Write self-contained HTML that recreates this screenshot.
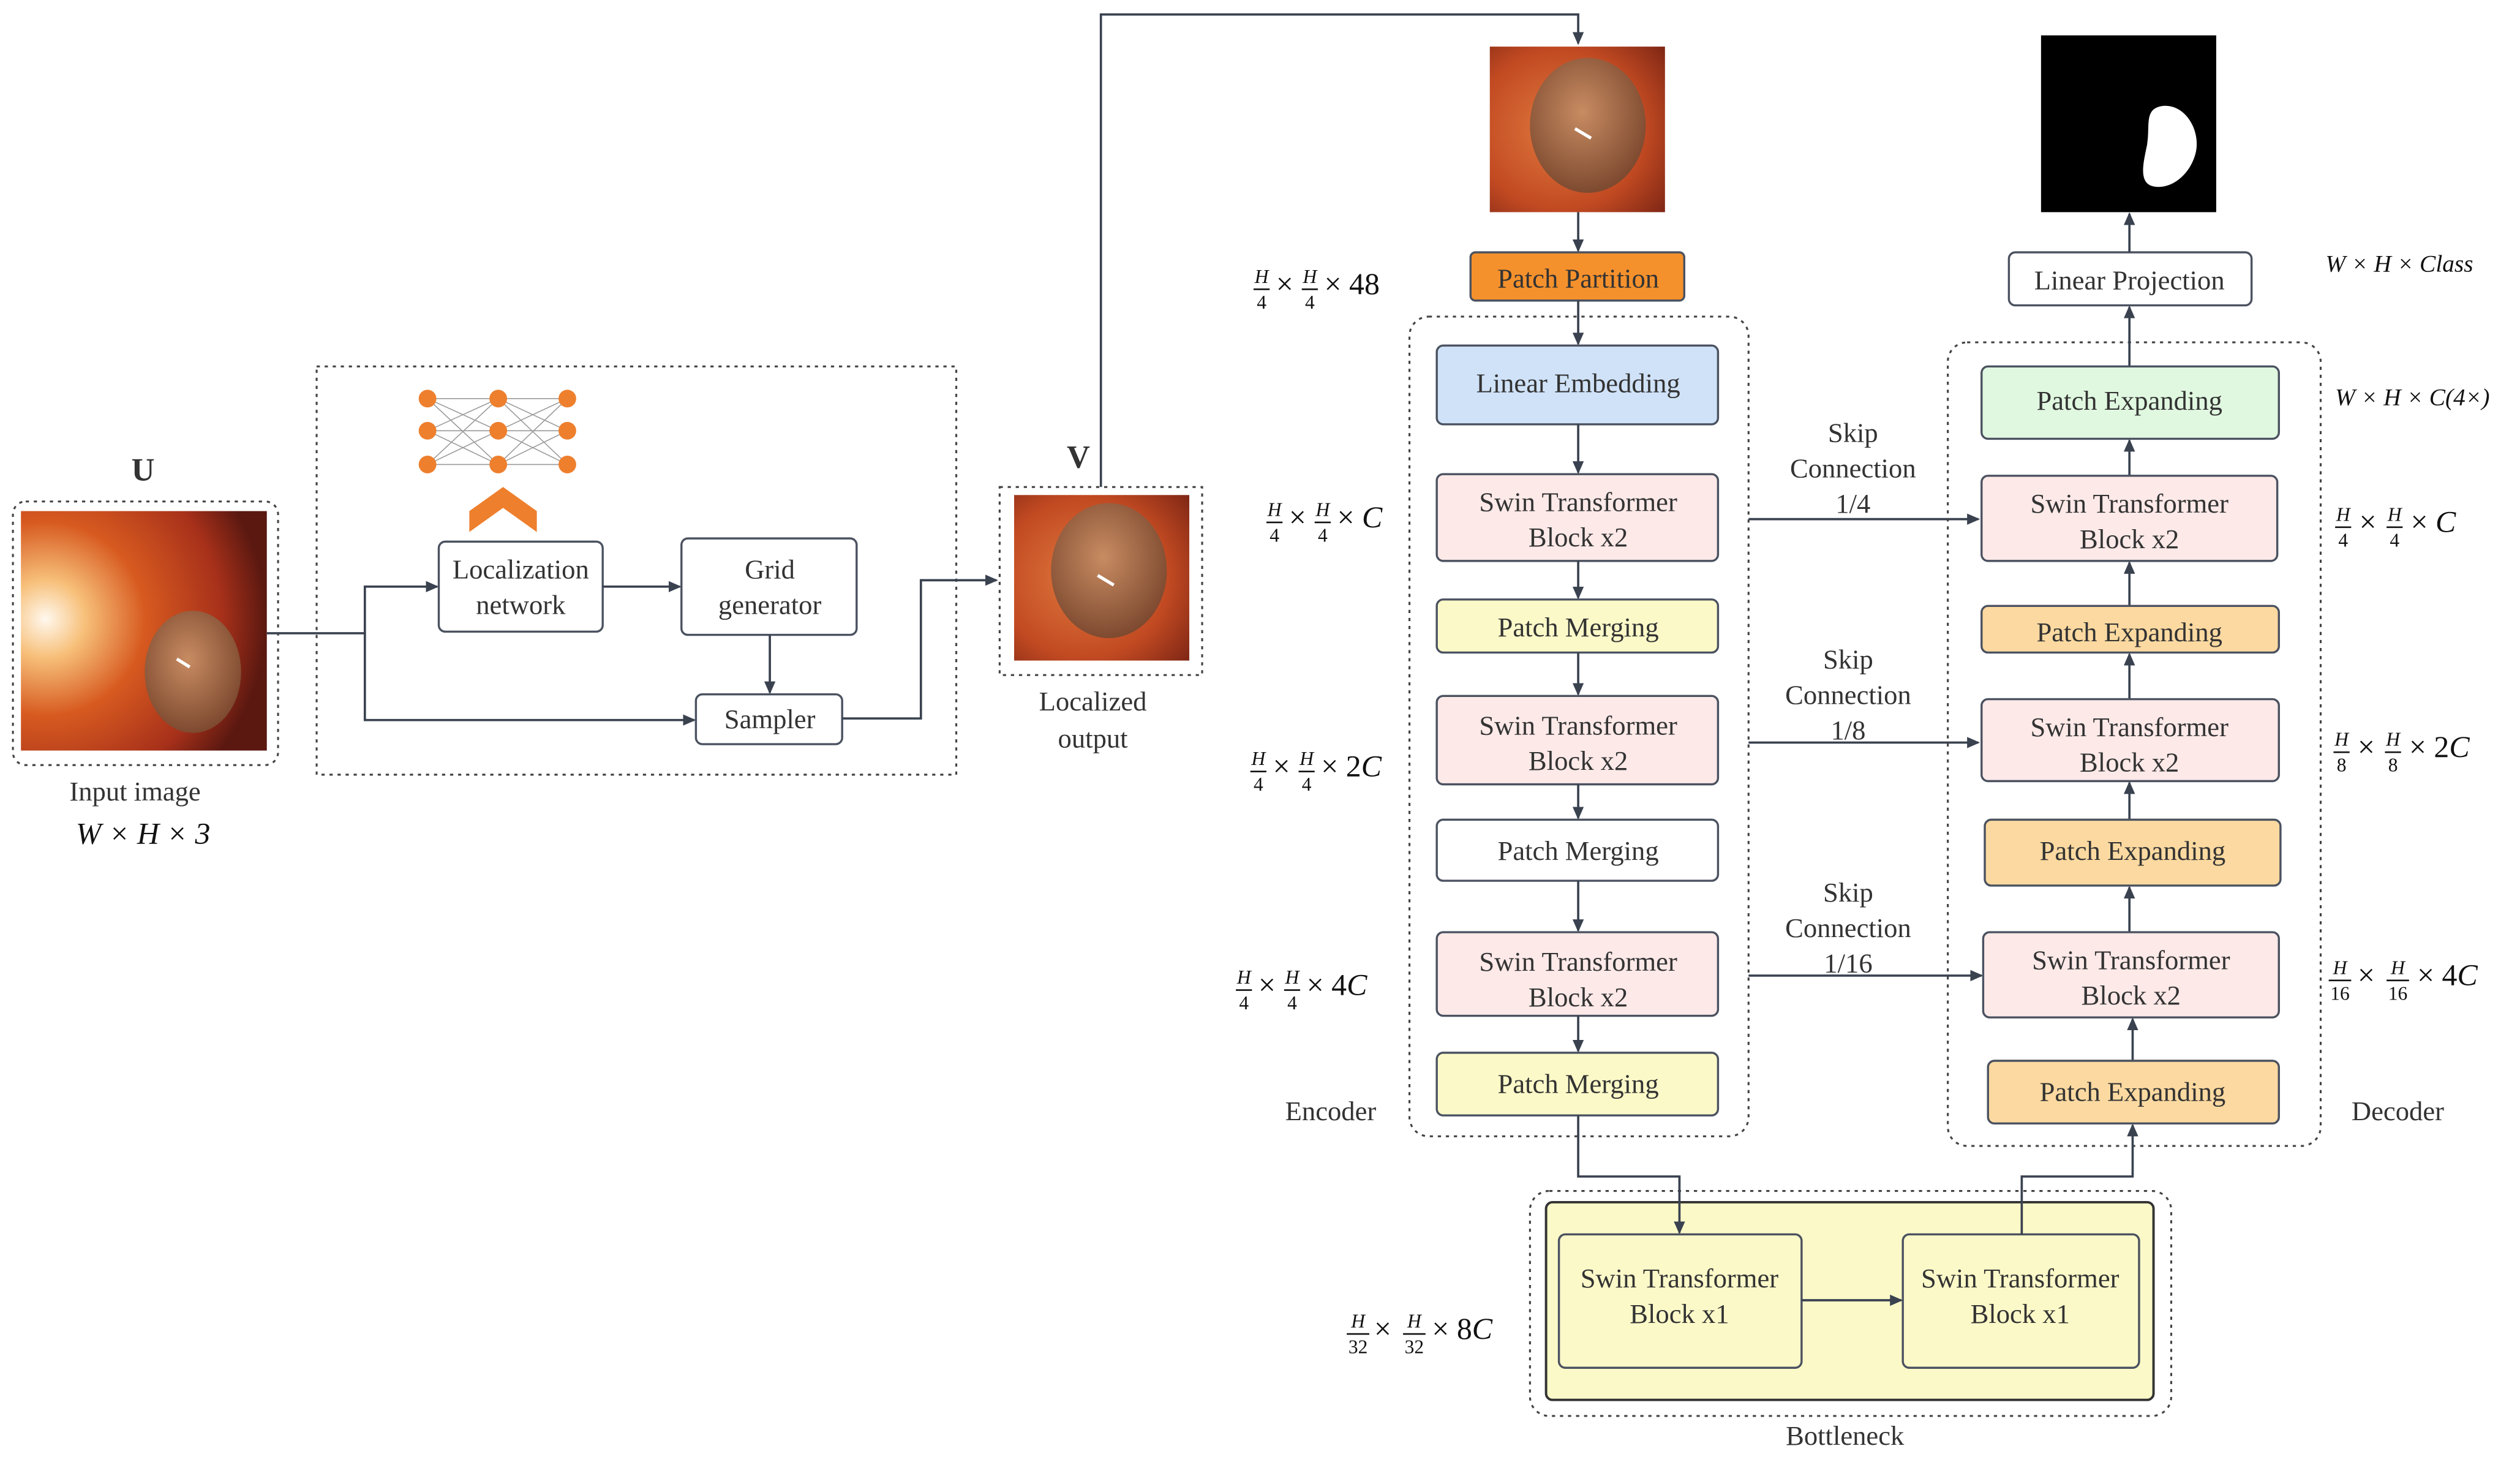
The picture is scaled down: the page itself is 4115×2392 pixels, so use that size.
<!DOCTYPE html>
<html><head><meta charset="utf-8"><style>
html,body{margin:0;padding:0;background:#fff;}
svg{display:block;}
text{font-family:"Liberation Serif",serif;fill:#333;}
.b{font-size:17px;text-anchor:middle;}
.f{font-size:12px;font-style:italic;text-anchor:middle;fill:#111;}
.fn{font-size:12px;text-anchor:middle;fill:#111;}
.m{font-size:19px;fill:#111;}
.i{font-style:italic;}
.ln{stroke:#3a4250;stroke-width:1.4;fill:none;}
.dot{stroke:#444;stroke-width:1.2;fill:none;stroke-dasharray:2 3;}
.box{stroke:#4b5260;stroke-width:1.3;}
</style></head><body>
<svg width="4115" height="2392" viewBox="0 0 1568 911.5" xmlns="http://www.w3.org/2000/svg">
<defs>
<marker id="a" markerWidth="8" markerHeight="8" refX="7" refY="4" orient="auto" markerUnits="userSpaceOnUse"><path d="M0,0.5 L8,4 L0,7.5 z" fill="#3a4250"/></marker>
<radialGradient id="img1" cx="0.1" cy="0.45" r="0.9"><stop offset="0" stop-color="#fff8ee"/><stop offset="0.18" stop-color="#f7c07a"/><stop offset="0.45" stop-color="#d75a20"/><stop offset="0.8" stop-color="#a6301a"/><stop offset="1" stop-color="#5a1810"/></radialGradient>
<radialGradient id="img2" cx="0.4" cy="0.5" r="0.8"><stop offset="0" stop-color="#e07a3e"/><stop offset="0.6" stop-color="#c24a22"/><stop offset="1" stop-color="#7a2414"/></radialGradient>
<radialGradient id="pol" cx="0.45" cy="0.4" r="0.6"><stop offset="0" stop-color="#c88c62"/><stop offset="1" stop-color="#7e4a30"/></radialGradient>
</defs>

<!-- Input image -->
<rect class="dot" x="8" y="312" width="165" height="164" rx="8"/>
<polygon points="13,318 166,318 166,467 13,467" fill="url(#img1)"/>
<ellipse cx="120" cy="418" rx="30" ry="38" fill="url(#pol)"/>
<path d="M110,410 l8,5" stroke="#fff" stroke-width="2"/>
<text x="89" y="299" style="font-size:20px;font-weight:bold;text-anchor:middle;fill:#333">U</text>
<text x="84" y="498" class="b">Input image</text>
<text x="89" y="525" class="m i" text-anchor="middle">W × H × 3</text>

<!-- STN -->
<rect class="dot" x="197" y="228" width="398" height="254"/>
<g stroke="#999" stroke-width="0.6">
<path d="M266,248 L310,248 M266,248 L310,268 M266,248 L310,289 M266,268 L310,248 M266,268 L310,268 M266,268 L310,289 M266,289 L310,248 M266,289 L310,268 M266,289 L310,289"/>
<path d="M310,248 L353,248 M310,248 L353,268 M310,248 L353,289 M310,268 L353,248 M310,268 L353,268 M310,268 L353,289 M310,289 L353,248 M310,289 L353,268 M310,289 L353,289"/>
</g>
<g fill="#ee7f2d">
<circle cx="266" cy="248" r="5.5"/><circle cx="266" cy="268" r="5.5"/><circle cx="266" cy="289" r="5.5"/>
<circle cx="310" cy="248" r="5.5"/><circle cx="310" cy="268" r="5.5"/><circle cx="310" cy="289" r="5.5"/>
<circle cx="353" cy="248" r="5.5"/><circle cx="353" cy="268" r="5.5"/><circle cx="353" cy="289" r="5.5"/>
<polygon points="292,318 313,303 334,318 334,331 313,316 292,331"/>
</g>
<rect class="box" x="273" y="337" width="102" height="56" rx="4" fill="#fff"/>
<text x="324" y="360" class="b">Localization</text><text x="324" y="382" class="b">network</text>
<rect class="box" x="424" y="335" width="109" height="60" rx="4" fill="#fff"/>
<text x="479" y="360" class="b">Grid</text><text x="479" y="382" class="b">generator</text>
<rect class="box" x="433" y="432" width="91" height="31" rx="4" fill="#fff"/>
<text x="479" y="453" class="b">Sampler</text>
<path class="ln" d="M166,394 H227 V365 H272" marker-end="url(#a)"/>
<path class="ln" d="M227,394 V448 H432" marker-end="url(#a)"/>
<path class="ln" d="M375,365 H423" marker-end="url(#a)"/>
<path class="ln" d="M479,395 V431" marker-end="url(#a)"/>
<path class="ln" d="M524,447 H573 V361 H620" marker-end="url(#a)"/>

<!-- V -->
<rect class="dot" x="622" y="303" width="126" height="117"/>
<rect x="631" y="308" width="109" height="103" fill="url(#img2)"/>
<ellipse cx="690" cy="355" rx="36" ry="42" fill="url(#pol)"/>
<path d="M683,358 l10,6" stroke="#fff" stroke-width="2"/>
<text x="671" y="291" style="font-size:20px;font-weight:bold;text-anchor:middle;fill:#333">V</text>
<text x="680" y="442" class="b">Localized</text><text x="680" y="465" class="b">output</text>
<path class="ln" d="M685,303 V9 H982 V27" marker-end="url(#a)"/>

<!-- top image -->
<rect x="927" y="29" width="109" height="103" fill="url(#img2)"/>
<ellipse cx="988" cy="78" rx="36" ry="42" fill="url(#pol)"/>
<path d="M980,80 l10,6" stroke="#fff" stroke-width="2"/>
<path class="ln" d="M982,132 V156" marker-end="url(#a)"/>

<!-- Encoder -->
<rect x="915" y="157" width="133" height="30" rx="3" fill="#f5912c" class="box"/>
<text x="982" y="179" class="b">Patch Partition</text>
<rect class="dot" x="877" y="197" width="211" height="510" rx="12"/>
<path class="ln" d="M982,187 V214" marker-end="url(#a)"/>
<rect class="box" x="894" y="215" width="175" height="49" rx="4" fill="#cfe2f8"/>
<text x="982" y="244" class="b">Linear Embedding</text>
<path class="ln" d="M982,264 V294" marker-end="url(#a)"/>
<rect class="box" x="894" y="295" width="175" height="54" rx="4" fill="#fce9e8"/>
<text x="982" y="318" class="b">Swin Transformer</text><text x="982" y="340" class="b">Block x2</text>
<path class="ln" d="M982,349 V372" marker-end="url(#a)"/>
<rect class="box" x="894" y="373" width="175" height="33" rx="4" fill="#fbf9c8"/>
<text x="982" y="396" class="b">Patch Merging</text>
<path class="ln" d="M982,406 V432" marker-end="url(#a)"/>
<rect class="box" x="894" y="433" width="175" height="55" rx="4" fill="#fce9e8"/>
<text x="982" y="457" class="b">Swin Transformer</text><text x="982" y="479" class="b">Block x2</text>
<path class="ln" d="M982,488 V509" marker-end="url(#a)"/>
<rect class="box" x="894" y="510" width="175" height="38" rx="4" fill="#fff"/>
<text x="982" y="535" class="b">Patch Merging</text>
<path class="ln" d="M982,548 V579" marker-end="url(#a)"/>
<rect class="box" x="894" y="580" width="175" height="52" rx="4" fill="#fce9e8"/>
<text x="982" y="604" class="b">Swin Transformer</text><text x="982" y="626" class="b">Block x2</text>
<path class="ln" d="M982,632 V654" marker-end="url(#a)"/>
<rect class="box" x="894" y="655" width="175" height="39" rx="4" fill="#fbf9c8"/>
<text x="982" y="680" class="b">Patch Merging</text>
<text x="828" y="697" class="b">Encoder</text>

<!-- Skips -->
<text x="1153" y="275" class="b">Skip</text><text x="1153" y="297" class="b">Connection</text><text x="1153" y="319" class="b">1/4</text>
<path class="ln" d="M1088,323 H1231" marker-end="url(#a)"/>
<text x="1150" y="416" class="b">Skip</text><text x="1150" y="438" class="b">Connection</text><text x="1150" y="460" class="b">1/8</text>
<path class="ln" d="M1088,462 H1231" marker-end="url(#a)"/>
<text x="1150" y="561" class="b">Skip</text><text x="1150" y="583" class="b">Connection</text><text x="1150" y="605" class="b">1/16</text>
<path class="ln" d="M1088,607 H1233" marker-end="url(#a)"/>

<!-- Decoder -->
<rect x="1270" y="22" width="109" height="110" fill="#000"/>
<path d="M1345,66 C1360,64 1370,82 1366,96 C1362,110 1350,118 1340,116 C1330,114 1334,100 1336,90 C1338,78 1334,68 1345,66 Z" fill="#fff"/>
<rect class="box" x="1250" y="157" width="151" height="33" rx="4" fill="#fff"/>
<text x="1325" y="180" class="b">Linear Projection</text>
<path class="ln" d="M1325,157 V133" marker-end="url(#a)"/>
<rect class="dot" x="1212" y="213" width="232" height="500" rx="12"/>
<path class="ln" d="M1325,228 V191" marker-end="url(#a)"/>
<rect class="box" x="1233" y="228" width="185" height="45" rx="4" fill="#e0f8e0"/>
<text x="1325" y="255" class="b">Patch Expanding</text>
<path class="ln" d="M1325,296 V274" marker-end="url(#a)"/>
<rect class="box" x="1233" y="296" width="184" height="53" rx="4" fill="#fce9e8"/>
<text x="1325" y="319" class="b">Swin Transformer</text><text x="1325" y="341" class="b">Block x2</text>
<path class="ln" d="M1325,377 V350" marker-end="url(#a)"/>
<rect class="box" x="1233" y="377" width="185" height="29" rx="4" fill="#fbd9a0"/>
<text x="1325" y="399" class="b">Patch Expanding</text>
<path class="ln" d="M1325,435 V407" marker-end="url(#a)"/>
<rect class="box" x="1233" y="435" width="185" height="51" rx="4" fill="#fce9e8"/>
<text x="1325" y="458" class="b">Swin Transformer</text><text x="1325" y="480" class="b">Block x2</text>
<path class="ln" d="M1325,510 V487" marker-end="url(#a)"/>
<rect class="box" x="1235" y="510" width="184" height="41" rx="4" fill="#fbd9a0"/>
<text x="1327" y="535" class="b">Patch Expanding</text>
<path class="ln" d="M1325,580 V552" marker-end="url(#a)"/>
<rect class="box" x="1234" y="580" width="184" height="53" rx="4" fill="#fce9e8"/>
<text x="1326" y="603" class="b">Swin Transformer</text><text x="1326" y="625" class="b">Block x2</text>
<path class="ln" d="M1327,660 V634" marker-end="url(#a)"/>
<rect class="box" x="1237" y="660" width="181" height="39" rx="4" fill="#fbd9a0"/>
<text x="1327" y="685" class="b">Patch Expanding</text>
<text x="1492" y="697" class="b">Decoder</text>

<!-- Bottleneck -->
<rect class="dot" x="952" y="741" width="399" height="140" rx="12"/>
<rect x="962" y="748" width="378" height="123" rx="4" fill="#fbf9c8" stroke="#333" stroke-width="1.5"/>
<rect class="box" x="970" y="768" width="151" height="83" rx="4" fill="#fbf9c8"/>
<text x="1045" y="801" class="b">Swin Transformer</text><text x="1045" y="823" class="b">Block x1</text>
<rect class="box" x="1184" y="768" width="147" height="83" rx="4" fill="#fbf9c8"/>
<text x="1257" y="801" class="b">Swin Transformer</text><text x="1257" y="823" class="b">Block x1</text>
<path class="ln" d="M1121,809 H1183" marker-end="url(#a)"/>
<path class="ln" d="M982,694 V732 H1045 V767" marker-end="url(#a)"/>
<path class="ln" d="M1258,768 V732 H1327 V700" marker-end="url(#a)"/>
<text x="1148" y="899" class="b">Bottleneck</text>

<!-- Dimension labels -->
<g transform="translate(779,183)">
<text x="6" y="-7" class="f">H</text><line x1="1" x2="11" y1="-3" y2="-3" stroke="#111"/><text x="6" y="9" class="fn">4</text>
<text x="15" y="0" class="m">×</text>
<text x="36" y="-7" class="f">H</text><line x1="31" x2="41" y1="-3" y2="-3" stroke="#111"/><text x="36" y="9" class="fn">4</text>
<text x="45" y="0" class="m">× 48</text></g>
<g transform="translate(787,328)">
<text x="6" y="-7" class="f">H</text><line x1="1" x2="11" y1="-3" y2="-3" stroke="#111"/><text x="6" y="9" class="fn">4</text>
<text x="15" y="0" class="m">×</text>
<text x="36" y="-7" class="f">H</text><line x1="31" x2="41" y1="-3" y2="-3" stroke="#111"/><text x="36" y="9" class="fn">4</text>
<text x="45" y="0" class="m">× <tspan class="i">C</tspan></text></g>
<g transform="translate(777,483)">
<text x="6" y="-7" class="f">H</text><line x1="1" x2="11" y1="-3" y2="-3" stroke="#111"/><text x="6" y="9" class="fn">4</text>
<text x="15" y="0" class="m">×</text>
<text x="36" y="-7" class="f">H</text><line x1="31" x2="41" y1="-3" y2="-3" stroke="#111"/><text x="36" y="9" class="fn">4</text>
<text x="45" y="0" class="m">× 2<tspan class="i">C</tspan></text></g>
<g transform="translate(768,619)">
<text x="6" y="-7" class="f">H</text><line x1="1" x2="11" y1="-3" y2="-3" stroke="#111"/><text x="6" y="9" class="fn">4</text>
<text x="15" y="0" class="m">×</text>
<text x="36" y="-7" class="f">H</text><line x1="31" x2="41" y1="-3" y2="-3" stroke="#111"/><text x="36" y="9" class="fn">4</text>
<text x="45" y="0" class="m">× 4<tspan class="i">C</tspan></text></g>
<g transform="translate(837,833)">
<text x="8" y="-7" class="f">H</text><line x1="1" x2="15" y1="-3" y2="-3" stroke="#111"/><text x="8" y="9" class="fn">32</text>
<text x="18" y="0" class="m">×</text>
<text x="43" y="-7" class="f">H</text><line x1="36" x2="50" y1="-3" y2="-3" stroke="#111"/><text x="43" y="9" class="fn">32</text>
<text x="54" y="0" class="m">× 8<tspan class="i">C</tspan></text></g>

<text x="1447" y="169" style="font-size:15px;font-style:italic;fill:#111">W × H × Class</text>
<text x="1453" y="252" style="font-size:15px;font-style:italic;fill:#111">W × H × C(4×)</text>
<g transform="translate(1452,331)">
<text x="6" y="-7" class="f">H</text><line x1="1" x2="11" y1="-3" y2="-3" stroke="#111"/><text x="6" y="9" class="fn">4</text>
<text x="16" y="0" class="m">×</text>
<text x="38" y="-7" class="f">H</text><line x1="33" x2="43" y1="-3" y2="-3" stroke="#111"/><text x="38" y="9" class="fn">4</text>
<text x="48" y="0" class="m">× <tspan class="i">C</tspan></text></g>
<g transform="translate(1451,471)">
<text x="6" y="-7" class="f">H</text><line x1="1" x2="11" y1="-3" y2="-3" stroke="#111"/><text x="6" y="9" class="fn">8</text>
<text x="16" y="0" class="m">×</text>
<text x="38" y="-7" class="f">H</text><line x1="33" x2="43" y1="-3" y2="-3" stroke="#111"/><text x="38" y="9" class="fn">8</text>
<text x="48" y="0" class="m">× 2<tspan class="i">C</tspan></text></g>
<g transform="translate(1448,613)">
<text x="8" y="-7" class="f">H</text><line x1="1" x2="15" y1="-3" y2="-3" stroke="#111"/><text x="8" y="9" class="fn">16</text>
<text x="19" y="0" class="m">×</text>
<text x="44" y="-7" class="f">H</text><line x1="37" x2="51" y1="-3" y2="-3" stroke="#111"/><text x="44" y="9" class="fn">16</text>
<text x="56" y="0" class="m">× 4<tspan class="i">C</tspan></text></g>
</svg>
</body></html>
